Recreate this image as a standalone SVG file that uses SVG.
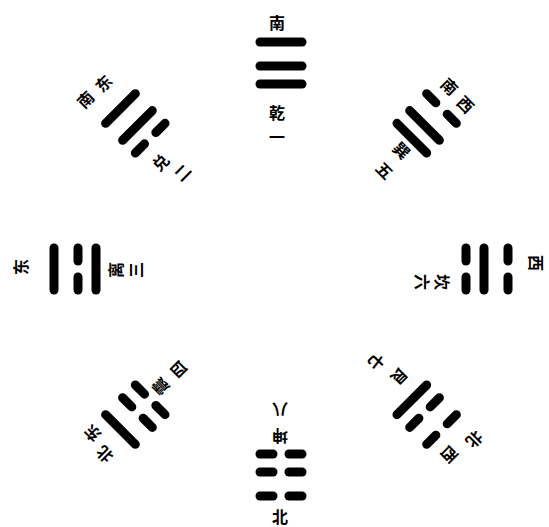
<svg xmlns="http://www.w3.org/2000/svg" xmlns:xlink="http://www.w3.org/1999/xlink" width="549" height="527" viewBox="0 0 549 527">
<style>
.b{stroke:#000;stroke-width:9;stroke-linecap:round;fill:none}
text{font-family:"Noto Sans CJK SC","Noto Sans CJK JP",sans-serif;font-weight:700;font-size:16px;fill:#000;text-anchor:middle;dominant-baseline:central}
</style>
<defs>
<g id="yang"><line class="b" x1="-21" y1="0" x2="21" y2="0"/></g>
<g id="yin"><line class="b" x1="-21" y1="0" x2="-8" y2="0"/><line class="b" x1="8" y1="0" x2="21" y2="0"/></g>
</defs>
<rect width="549" height="527" fill="#fff"/>
<g id="connectors"/>
<g id="qian">
<g transform="translate(281,269) rotate(0)"><use href="#yang" y="-185"/><use href="#yang" y="-203"/><use href="#yang" y="-227"/></g>
<text x="277" y="22">南</text>
<text x="277" y="112">乾</text>
<text x="277" y="136">一</text>
</g>
<g id="dui">
<g transform="translate(281,269) rotate(315)"><use href="#yin" y="-185"/><use href="#yang" y="-203"/><use href="#yang" y="-227"/></g>
<text transform="translate(103,83) rotate(-45)">东</text>
<text transform="translate(85,99) rotate(-45)">南</text>
<text transform="translate(160,162) rotate(-45)">兑</text>
<text transform="translate(182,172) rotate(-45)">二</text>
</g>
<g id="li">
<g transform="translate(281,269) rotate(270)"><use href="#yang" y="-185"/><use href="#yin" y="-203"/><use href="#yang" y="-227"/></g>
<text transform="translate(20,267) rotate(-90)">东</text>
<text transform="translate(115,270) rotate(-90)">离</text>
<text transform="translate(135,270) rotate(-90)">三</text>
</g>
<g id="zhen">
<g transform="translate(281,269) rotate(225)"><use href="#yin" y="-185"/><use href="#yin" y="-203"/><use href="#yang" y="-227"/></g>
<text transform="translate(92,434) rotate(-135)">东</text>
<text transform="translate(104,455) rotate(-135)">北</text>
<text transform="translate(160,387) rotate(-135)">震</text>
<text transform="translate(178,370) rotate(-135)">四</text>
</g>
<g id="xun">
<g transform="translate(281,269) rotate(45)"><use href="#yang" y="-185"/><use href="#yang" y="-203"/><use href="#yin" y="-227"/></g>
<text transform="translate(450,86) rotate(45)">南</text>
<text transform="translate(466,104) rotate(45)">西</text>
<text transform="translate(402,150) rotate(45)">巽</text>
<text transform="translate(385,170) rotate(45)">五</text>
</g>
<g id="kan">
<g transform="translate(281,269) rotate(90)"><use href="#yin" y="-185"/><use href="#yang" y="-203"/><use href="#yin" y="-227"/></g>
<text transform="translate(537,263) rotate(90)">西</text>
<text transform="translate(443,282) rotate(90)">坎</text>
<text transform="translate(423,282) rotate(90)">六</text>
</g>
<g id="gen">
<g transform="translate(281,269) rotate(135)"><use href="#yang" y="-185"/><use href="#yin" y="-203"/><use href="#yin" y="-227"/></g>
<text transform="translate(450,455) rotate(135)">西</text>
<text transform="translate(475,440) rotate(135)">北</text>
<text transform="translate(400,377) rotate(135)">艮</text>
<text transform="translate(377,362) rotate(135)">七</text>
</g>
<g id="kun">
<g transform="translate(281,269) rotate(180)"><use href="#yin" y="-185"/><use href="#yin" y="-203"/><use href="#yin" y="-227"/></g>
<text x="280" y="516">北</text>
<text transform="translate(280,437) rotate(180)">坤</text>
<text transform="translate(280,411) rotate(180)">八</text>
</g>
</svg>
